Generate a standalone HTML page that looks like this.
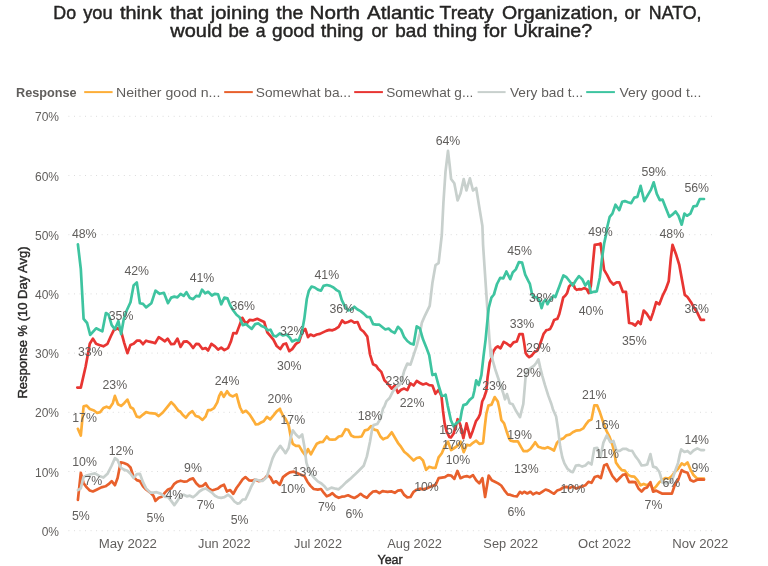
<!DOCTYPE html>
<html><head><meta charset="utf-8"><title>NATO chart</title>
<style>
html,body{margin:0;padding:0;background:#fff;}
body{width:768px;height:566px;overflow:hidden;font-family:"Liberation Sans",sans-serif;}
svg{display:block;will-change:transform;}
text{font-family:"Liberation Sans",sans-serif;}
.ax{font-size:12px;fill:#605E5C;}
.dl{font-size:12.3px;fill:#605E5C;}
.lg{font-size:12.6px;fill:#605E5C;}
.ln{fill:none;stroke-width:2.7;stroke-linejoin:round;stroke-linecap:round;}
</style></head><body>
<svg width="768" height="566" viewBox="0 0 768 566">
<rect width="768" height="566" fill="#fff"/>
<text x="53.33" y="19.3" font-size="19.0" fill="#252423" textLength="22.79" lengthAdjust="spacingAndGlyphs" stroke="#252423" stroke-width="0.45">Do</text><text x="83.14" y="19.3" font-size="19.0" fill="#252423" textLength="29.46" lengthAdjust="spacingAndGlyphs" stroke="#252423" stroke-width="0.45">you</text><text x="119.90" y="19.3" font-size="19.0" fill="#252423" textLength="41.92" lengthAdjust="spacingAndGlyphs" stroke="#252423" stroke-width="0.45">think</text><text x="170.00" y="19.3" font-size="19.0" fill="#252423" textLength="32.65" lengthAdjust="spacingAndGlyphs" stroke="#252423" stroke-width="0.45">that</text><text x="210.80" y="19.3" font-size="19.0" fill="#252423" textLength="58.50" lengthAdjust="spacingAndGlyphs" stroke="#252423" stroke-width="0.45">joining</text><text x="276.30" y="19.3" font-size="19.0" fill="#252423" textLength="26.99" lengthAdjust="spacingAndGlyphs" stroke="#252423" stroke-width="0.45">the</text><text x="309.44" y="19.3" font-size="19.0" fill="#252423" textLength="50.62" lengthAdjust="spacingAndGlyphs" stroke="#252423" stroke-width="0.45">North</text><text x="366.97" y="19.3" font-size="19.0" fill="#252423" textLength="67.37" lengthAdjust="spacingAndGlyphs" stroke="#252423" stroke-width="0.45">Atlantic</text><text x="439.55" y="19.3" font-size="19.0" fill="#252423" textLength="54.09" lengthAdjust="spacingAndGlyphs" stroke="#252423" stroke-width="0.45">Treaty</text><text x="502.13" y="19.3" font-size="19.0" fill="#252423" textLength="116.13" lengthAdjust="spacingAndGlyphs" stroke="#252423" stroke-width="0.45">Organization,</text><text x="624.53" y="19.3" font-size="19.0" fill="#252423" textLength="15.81" lengthAdjust="spacingAndGlyphs" stroke="#252423" stroke-width="0.45">or</text><text x="648.83" y="19.3" font-size="19.0" fill="#252423" textLength="52.63" lengthAdjust="spacingAndGlyphs" stroke="#252423" stroke-width="0.45">NATO,</text>
<text x="170.26" y="36.7" font-size="19.0" fill="#252423" textLength="52.19" lengthAdjust="spacingAndGlyphs" stroke="#252423" stroke-width="0.45">would</text><text x="228.42" y="36.7" font-size="19.0" fill="#252423" textLength="20.71" lengthAdjust="spacingAndGlyphs" stroke="#252423" stroke-width="0.45">be</text><text x="255.84" y="36.7" font-size="19.0" fill="#252423" textLength="9.80" lengthAdjust="spacingAndGlyphs" stroke="#252423" stroke-width="0.45">a</text><text x="272.00" y="36.7" font-size="19.0" fill="#252423" textLength="42.54" lengthAdjust="spacingAndGlyphs" stroke="#252423" stroke-width="0.45">good</text><text x="320.80" y="36.7" font-size="19.0" fill="#252423" textLength="42.69" lengthAdjust="spacingAndGlyphs" stroke="#252423" stroke-width="0.45">thing</text><text x="371.42" y="36.7" font-size="19.0" fill="#252423" textLength="16.23" lengthAdjust="spacingAndGlyphs" stroke="#252423" stroke-width="0.45">or</text><text x="395.30" y="36.7" font-size="19.0" fill="#252423" textLength="31.65" lengthAdjust="spacingAndGlyphs" stroke="#252423" stroke-width="0.45">bad</text><text x="433.50" y="36.7" font-size="19.0" fill="#252423" textLength="43.81" lengthAdjust="spacingAndGlyphs" stroke="#252423" stroke-width="0.45">thing</text><text x="483.50" y="36.7" font-size="19.0" fill="#252423" textLength="23.20" lengthAdjust="spacingAndGlyphs" stroke="#252423" stroke-width="0.45">for</text><text x="513.61" y="36.7" font-size="19.0" fill="#252423" textLength="78.56" lengthAdjust="spacingAndGlyphs" stroke="#252423" stroke-width="0.45">Ukraine?</text>
<text x="16.04" y="96.7" class="lg" font-weight="bold" textLength="60.61" lengthAdjust="spacingAndGlyphs">Response</text>
<line x1="84.2" y1="92.1" x2="112.6" y2="92.1" stroke="#FDAE38" stroke-width="2"/><text x="116.08" y="96.7" class="lg" textLength="104.28" lengthAdjust="spacingAndGlyphs">Neither good n...</text>
<line x1="224.2" y1="92.1" x2="252.8" y2="92.1" stroke="#E8602C" stroke-width="2"/><text x="255.89" y="96.7" class="lg" textLength="95.09" lengthAdjust="spacingAndGlyphs">Somewhat ba...</text>
<line x1="354.2" y1="92.1" x2="382.9" y2="92.1" stroke="#E83532" stroke-width="2"/><text x="386.19" y="96.7" class="lg" textLength="87.08" lengthAdjust="spacingAndGlyphs">Somewhat g...</text>
<line x1="477.6" y1="92.1" x2="505.6" y2="92.1" stroke="#C8D0CD" stroke-width="2"/><text x="510.00" y="96.7" class="lg" textLength="73.02" lengthAdjust="spacingAndGlyphs">Very bad t...</text>
<line x1="586.2" y1="92.1" x2="614.9" y2="92.1" stroke="#3EC4A0" stroke-width="2"/><text x="619.50" y="96.7" class="lg" textLength="81.84" lengthAdjust="spacingAndGlyphs">Very good t...</text>
<line x1="68.85" y1="530.7" x2="712" y2="530.7" stroke="#D8D8D8" stroke-width="1" stroke-dasharray="0.1 5.44" stroke-linecap="round"/><text x="59" y="535.8" text-anchor="end" class="ax">0%</text>
<line x1="68.85" y1="471.5" x2="712" y2="471.5" stroke="#D8D8D8" stroke-width="1" stroke-dasharray="0.1 5.44" stroke-linecap="round"/><text x="59" y="476.6" text-anchor="end" class="ax">10%</text>
<line x1="68.85" y1="412.3" x2="712" y2="412.3" stroke="#D8D8D8" stroke-width="1" stroke-dasharray="0.1 5.44" stroke-linecap="round"/><text x="59" y="417.4" text-anchor="end" class="ax">20%</text>
<line x1="68.85" y1="353.1" x2="712" y2="353.1" stroke="#D8D8D8" stroke-width="1" stroke-dasharray="0.1 5.44" stroke-linecap="round"/><text x="59" y="358.2" text-anchor="end" class="ax">30%</text>
<line x1="68.85" y1="293.9" x2="712" y2="293.9" stroke="#D8D8D8" stroke-width="1" stroke-dasharray="0.1 5.44" stroke-linecap="round"/><text x="59" y="299.0" text-anchor="end" class="ax">40%</text>
<line x1="68.85" y1="234.7" x2="712" y2="234.7" stroke="#D8D8D8" stroke-width="1" stroke-dasharray="0.1 5.44" stroke-linecap="round"/><text x="59" y="239.8" text-anchor="end" class="ax">50%</text>
<line x1="68.85" y1="175.5" x2="712" y2="175.5" stroke="#D8D8D8" stroke-width="1" stroke-dasharray="0.1 5.44" stroke-linecap="round"/><text x="59" y="180.6" text-anchor="end" class="ax">60%</text>
<line x1="68.85" y1="116.3" x2="712" y2="116.3" stroke="#D8D8D8" stroke-width="1" stroke-dasharray="0.1 5.44" stroke-linecap="round"/><text x="59" y="121.4" text-anchor="end" class="ax">70%</text>
<text x="98.70" y="548.2" class="ax" textLength="58.18" lengthAdjust="spacingAndGlyphs">May 2022</text>
<text x="198.03" y="548.2" class="ax" textLength="52.55" lengthAdjust="spacingAndGlyphs">Jun 2022</text>
<text x="294.14" y="548.2" class="ax" textLength="47.82" lengthAdjust="spacingAndGlyphs">Jul 2022</text>
<text x="387.30" y="548.2" class="ax" textLength="54.68" lengthAdjust="spacingAndGlyphs">Aug 2022</text>
<text x="483.37" y="548.2" class="ax" textLength="54.71" lengthAdjust="spacingAndGlyphs">Sep 2022</text>
<text x="578.06" y="548.2" class="ax" textLength="52.91" lengthAdjust="spacingAndGlyphs">Oct 2022</text>
<text x="672.21" y="548.2" class="ax" textLength="56.18" lengthAdjust="spacingAndGlyphs">Nov 2022</text>
<text x="377.50" y="563.6" class="ax" style="fill:#2a2928;stroke:#2a2928;stroke-width:0.4" textLength="25.20" lengthAdjust="spacingAndGlyphs">Year</text>
<text transform="translate(27,397.8) rotate(-90)" x="-0.81" y="0" class="ax" style="fill:#2a2928;stroke:#2a2928;stroke-width:0.4" textLength="152.19" lengthAdjust="spacingAndGlyphs">Response % (10 Day Avg)</text>
<path class="ln" stroke="#FDAE38" d="M77.9,428.8 L80.8,435.5 L83.6,406.3 L86.7,405.7 L89.8,409.0 L94.0,410.5 L97.1,413.0 L100.2,412.1 L103.4,408.0 L106.5,406.7 L109.6,408.0 L112.8,403.2 L114.9,395.9 L118.0,404.2 L121.1,405.9 L124.2,403.2 L127.4,399.6 L130.5,407.3 L133.2,408.8 L136.8,416.7 L139.9,417.3 L143.0,414.6 L146.1,412.1 L150.3,413.2 L155.5,413.6 L158.7,416.1 L162.8,412.5 L167.0,407.3 L171.2,402.1 L174.3,405.2 L178.5,410.9 L180.0,411.4 L182.6,414.7 L185.9,417.7 L189.2,413.4 L192.4,411.2 L195.7,416.0 L199.0,416.9 L202.5,419.9 L205.5,416.7 L208.1,410.1 L210.7,410.1 L214.0,408.2 L217.3,402.3 L219.2,395.8 L221.2,392.1 L223.8,396.8 L227.1,391.2 L229.7,395.1 L232.9,396.4 L236.5,394.4 L238.2,401.0 L240.1,407.5 L242.7,412.5 L246.0,410.8 L249.3,414.1 L251.9,418.0 L253.9,421.2 L255.8,424.5 L258.4,424.2 L261.0,422.5 L263.7,421.2 L266.9,416.9 L270.2,419.3 L273.5,415.4 L276.7,411.4 L280.0,408.8 L280.3,410.0 L283.0,415.7 L285.5,418.8 L288.6,425.1 L290.7,436.5 L292.8,443.8 L295.9,445.9 L299.1,445.9 L302.2,451.1 L305.3,455.3 L308.0,449.1 L310.9,454.3 L313.7,449.1 L316.8,443.8 L319.9,442.2 L323.0,441.8 L326.8,436.5 L329.3,439.3 L332.4,439.7 L335.6,439.3 L338.7,436.5 L341.8,435.9 L345.6,429.2 L348.1,429.7 L351.2,435.5 L354.3,437.0 L358.5,437.0 L361.6,436.5 L364.8,430.3 L367.9,429.7 L371.0,426.1 L374.2,429.7 L377.3,430.3 L380.4,436.5 L383.1,439.3 L384.4,438.6 L387.5,437.5 L391.7,432.3 L394.8,437.5 L397.9,442.8 L401.1,446.9 L404.2,451.7 L407.3,454.2 L410.5,457.4 L413.6,460.5 L416.7,458.0 L419.9,457.4 L423.0,460.5 L426.1,469.9 L429.2,466.8 L432.4,467.8 L435.5,467.8 L438.6,457.4 L441.8,453.2 L444.9,445.9 L448.0,441.7 L451.1,450.1 L454.3,448.0 L457.4,445.9 L460.5,441.7 L463.7,452.2 L466.8,444.9 L469.9,445.5 L473.0,442.8 L476.2,440.7 L479.3,443.8 L482.4,443.4 L483.2,442.2 L484.8,426.5 L486.3,414.0 L488.4,405.6 L491.5,404.6 L494.7,397.1 L497.8,401.5 L499.4,408.8 L501.4,420.2 L504.1,423.4 L506.7,431.7 L509.3,439.0 L510.6,440.7 L513.7,441.3 L517.9,441.3 L521.0,446.9 L523.5,451.1 L527.3,451.1 L530.4,449.0 L533.5,444.9 L535.2,442.2 L538.3,446.8 L541.5,447.8 L544.6,448.4 L547.7,447.2 L550.9,448.8 L554.0,450.5 L557.1,442.6 L560.2,439.5 L563.4,438.4 L566.5,435.3 L569.6,434.7 L572.8,432.2 L575.9,430.7 L580.1,430.1 L583.2,428.4 L586.3,423.8 L588.8,420.7 L591.5,419.6 L594.3,405.4 L597.2,405.4 L599.9,412.3 L603.0,421.7 L606.1,430.1 L609.3,436.3 L612.4,444.7 L614.5,453.0 L615.9,462.4 L618.7,466.6 L621.8,470.1 L624.9,470.7 L628.0,474.9 L631.2,476.4 L634.3,476.6 L637.4,480.1 L640.6,485.3 L643.7,483.9 L646.8,485.3 L649.9,483.3 L653.1,489.5 L656.2,486.4 L659.3,482.2 L662.5,479.7 L665.6,478.0 L668.7,478.5 L671.9,476.0 L675.0,471.8 L678.1,468.7 L681.7,463.4 L684.4,465.1 L687.5,462.4 L690.4,469.3 L693.5,475.1 L697.3,478.7 L700.8,478.7 L704.0,478.7"/>
<path class="ln" stroke="#E8602C" d="M77.9,499.9 L80.8,472.8 L83.6,483.2 L86.7,487.4 L89.8,490.5 L92.9,491.5 L97.1,489.5 L101.3,487.4 L105.5,486.3 L108.6,484.2 L111.7,481.1 L114.9,485.3 L117.6,478.0 L120.7,462.3 L123.8,463.0 L127.4,464.4 L130.5,467.5 L133.6,476.9 L136.8,480.1 L139.9,481.1 L143.0,486.3 L146.1,489.5 L150.3,492.6 L153.4,495.7 L155.5,500.9 L158.7,497.8 L161.8,496.8 L164.9,492.6 L168.0,489.5 L171.2,488.4 L174.3,483.8 L177.4,481.7 L180.6,480.7 L184.3,481.7 L186.8,481.5 L189.9,479.4 L193.1,478.4 L196.2,483.2 L199.3,486.3 L202.5,485.9 L205.6,483.2 L208.7,488.4 L211.9,490.5 L215.0,489.5 L218.1,488.4 L221.2,485.9 L224.0,484.7 L226.9,491.5 L227.5,491.1 L230.2,490.1 L233.3,493.8 L236.5,488.0 L239.6,483.8 L242.7,479.2 L245.4,477.1 L249.0,480.3 L252.1,480.7 L255.2,479.6 L258.4,481.1 L261.5,480.7 L264.6,478.6 L267.8,475.0 L270.5,477.5 L273.4,482.8 L276.1,481.3 L279.7,484.9 L283.0,477.1 L286.5,474.4 L289.7,472.3 L293.8,471.7 L297.0,473.0 L300.1,474.4 L304.3,475.9 L307.4,481.7 L310.5,485.9 L313.7,489.0 L317.8,489.6 L321.0,489.0 L324.1,493.2 L326.8,496.3 L329.3,495.3 L332.4,493.2 L335.6,496.3 L338.7,497.8 L341.8,496.7 L344.9,496.3 L348.1,495.3 L351.2,496.7 L354.3,498.0 L357.5,496.3 L360.6,493.8 L363.7,496.3 L366.9,497.8 L370.0,494.2 L373.1,491.5 L376.2,491.1 L379.4,493.2 L382.5,491.1 L384.4,491.4 L387.5,491.8 L391.7,491.4 L394.8,492.8 L397.9,490.7 L401.1,490.1 L404.2,494.9 L407.3,497.4 L410.5,497.0 L413.6,491.8 L416.7,489.7 L419.9,488.7 L423.0,489.3 L426.1,488.7 L429.2,487.2 L432.4,485.9 L435.5,485.1 L438.6,478.2 L441.8,477.6 L444.9,477.2 L448.0,475.1 L451.1,475.5 L454.3,478.9 L457.4,470.9 L460.5,478.2 L463.7,476.8 L466.8,476.1 L469.9,477.2 L473.0,475.1 L476.2,480.3 L479.3,483.4 L482.4,478.2 L485.1,497.0 L488.7,475.5 L491.8,480.3 L494.9,481.8 L498.1,483.4 L501.2,485.5 L504.3,490.1 L507.5,494.3 L510.6,494.9 L513.7,496.0 L516.9,496.4 L520.0,491.8 L522.1,493.5 L524.2,491.8 L527.3,493.5 L530.4,491.8 L532.5,493.9 L533.1,494.3 L536.3,492.6 L539.4,493.7 L542.5,491.6 L545.6,489.5 L548.8,490.6 L551.9,492.6 L554.0,493.7 L557.1,490.6 L560.2,489.5 L563.4,487.4 L566.5,486.8 L569.6,488.1 L572.8,486.4 L575.9,488.5 L579.0,487.4 L582.2,486.4 L585.3,485.3 L588.4,481.8 L591.5,482.8 L594.7,477.0 L597.8,476.0 L600.9,478.0 L604.1,465.5 L606.8,464.1 L609.3,469.7 L612.4,476.0 L616.6,481.2 L619.7,478.0 L622.8,474.9 L625.5,474.3 L629.1,482.2 L632.2,481.8 L635.3,482.2 L638.5,488.5 L641.6,491.6 L644.3,488.5 L647.2,487.4 L650.4,482.2 L653.1,491.6 L656.2,490.6 L659.3,492.2 L662.5,493.7 L665.6,493.7 L668.7,493.7 L671.9,493.7 L675.0,484.3 L678.1,480.1 L681.7,470.1 L684.4,471.8 L687.5,472.8 L690.4,480.1 L693.5,481.4 L697.3,479.7 L700.8,479.3 L704.0,479.7"/>
<path class="ln" stroke="#E83532" d="M77.3,387.6 L80.8,387.6 L85.6,366.8 L89.8,343.8 L92.9,338.6 L96.1,343.8 L99.2,344.9 L103.4,346.3 L107.5,343.8 L110.7,336.5 L113.8,330.2 L117.6,328.2 L121.1,331.3 L124.2,342.8 L127.4,353.2 L130.5,344.9 L133.6,343.8 L136.8,340.7 L139.9,340.7 L143.0,344.2 L146.1,340.7 L149.3,341.7 L152.4,342.3 L155.1,343.2 L158.7,337.1 L161.8,339.2 L164.9,341.3 L167.6,338.6 L171.2,344.2 L174.3,343.8 L177.4,338.6 L180.6,346.9 L183.7,341.7 L186.8,341.3 L189.9,343.8 L193.1,348.0 L196.2,343.8 L198.9,344.2 L202.5,349.0 L205.6,348.0 L208.1,350.5 L211.4,343.8 L215.0,346.3 L218.1,349.6 L221.2,347.6 L224.4,350.1 L227.5,348.4 L228.1,348.0 L230.8,341.8 L233.3,333.0 L236.5,333.4 L239.6,325.1 L242.3,317.8 L244.8,322.0 L246.9,323.0 L249.6,319.9 L253.2,320.3 L257.3,318.8 L260.9,320.5 L264.2,322.0 L267.3,332.4 L270.5,336.2 L273.4,339.7 L276.7,346.0 L280.3,349.1 L283.4,344.3 L286.1,343.5 L289.3,351.2 L292.2,349.1 L295.9,343.9 L299.1,341.8 L302.2,332.4 L305.3,328.9 L308.0,337.2 L310.5,334.5 L313.7,335.9 L316.8,334.5 L319.9,333.9 L323.0,332.4 L326.2,330.9 L329.3,329.9 L332.4,330.3 L335.6,328.9 L338.7,326.8 L342.2,320.5 L344.9,323.0 L348.1,322.0 L351.2,320.5 L354.3,322.6 L357.5,322.0 L360.6,329.3 L363.7,331.8 L367.3,336.6 L370.0,354.3 L373.1,364.3 L376.2,365.8 L378.1,368.8 L381.3,371.9 L384.4,380.3 L387.5,383.4 L391.7,388.6 L394.8,385.5 L397.9,392.8 L401.1,389.7 L404.2,388.6 L407.3,390.1 L410.5,383.4 L413.6,385.5 L416.7,380.9 L419.9,383.0 L423.0,384.5 L426.1,383.4 L429.2,385.1 L432.4,385.5 L435.5,393.8 L438.6,389.7 L441.5,396.3 L443.0,410.9 L444.6,423.4 L446.7,431.7 L449.3,436.9 L450.9,437.5 L453.5,433.8 L456.1,425.5 L457.6,419.2 L460.2,424.4 L463.4,438.2 L466.5,423.4 L470.2,437.5 L472.8,430.7 L475.9,421.3 L478.5,417.6 L480.1,414.0 L482.2,401.5 L484.2,397.3 L486.3,391.0 L487.6,377.2 L489.7,362.5 L491.3,358.8 L493.3,351.6 L495.9,347.6 L497.8,346.3 L500.5,348.3 L503.7,341.8 L507.0,343.7 L510.3,346.3 L513.5,342.4 L516.8,341.5 L519.4,334.2 L522.7,334.2 L524.2,343.1 L525.6,352.9 L527.3,355.5 L529.2,357.2 L531.8,355.5 L534.4,352.2 L537.1,350.9 L539.0,347.0 L541.6,339.8 L543.6,333.9 L545.6,331.3 L546.2,330.3 L548.2,329.7 L550.1,329.0 L552.1,325.1 L554.1,319.9 L556.0,319.2 L557.3,319.0 L559.3,314.0 L561.2,306.1 L563.2,297.6 L565.2,295.7 L567.1,293.1 L569.1,286.5 L571.0,284.6 L573.0,283.3 L575.0,288.5 L576.9,289.8 L578.9,289.2 L581.5,289.4 L584.1,288.1 L586.7,289.2 L588.7,293.1 L590.9,285.5 L592.6,266.7 L594.7,244.8 L597.8,244.4 L600.5,243.4 L602.0,254.2 L604.1,269.9 L607.2,275.1 L610.3,281.3 L613.4,284.5 L616.6,282.4 L619.3,282.4 L622.8,291.8 L626.0,291.8 L629.1,323.0 L632.2,323.5 L635.3,325.5 L638.1,321.4 L640.6,324.1 L643.7,310.5 L646.8,313.7 L650.6,319.9 L653.1,312.6 L656.2,302.2 L659.3,304.3 L662.5,295.9 L665.6,289.7 L668.7,281.3 L670.8,258.4 L672.5,244.8 L676.0,254.2 L679.2,264.6 L681.9,279.2 L684.8,294.9 L687.5,297.0 L691.0,302.2 L693.9,307.4 L697.3,312.6 L700.8,319.9 L704.0,319.9"/>
<path class="ln" stroke="#C8D0CD" d="M77.9,490.1 L80.8,488.4 L83.6,476.9 L86.7,475.5 L90.9,474.2 L95.0,473.4 L99.2,475.9 L103.4,477.6 L107.5,473.8 L111.7,465.5 L114.9,458.2 L117.6,460.2 L120.7,467.5 L123.8,469.6 L127.4,470.7 L130.5,473.8 L133.6,478.0 L136.8,474.2 L139.9,473.8 L143.0,482.2 L146.1,488.4 L150.3,492.6 L153.4,492.6 L156.6,492.2 L160.7,493.6 L164.9,496.8 L168.0,496.8 L171.2,500.9 L174.3,505.1 L177.4,500.9 L180.6,495.7 L183.7,494.7 L186.8,496.3 L189.9,495.7 L193.1,497.2 L196.2,494.7 L199.3,491.5 L202.5,489.5 L205.6,488.4 L208.7,490.5 L211.9,492.6 L215.0,495.7 L218.1,497.4 L221.2,497.8 L224.4,497.2 L227.5,495.1 L228.1,494.7 L231.3,497.4 L234.4,501.5 L237.5,503.6 L239.6,503.2 L242.7,499.5 L245.4,499.5 L248.4,493.2 L251.1,486.9 L255.2,479.3 L258.4,480.3 L262.5,481.0 L266.7,477.2 L269.9,466.8 L272.6,458.4 L275.1,453.2 L280.3,445.9 L283.4,450.1 L285.5,453.2 L288.6,448.0 L290.7,437.6 L292.8,430.3 L295.9,434.5 L299.1,437.6 L302.2,434.5 L304.3,445.9 L306.4,462.6 L308.4,468.9 L311.6,474.7 L314.7,478.3 L317.8,481.4 L321.4,483.5 L324.7,486.6 L327.2,489.7 L331.4,487.6 L335.6,488.7 L338.7,489.3 L341.8,486.6 L346.0,482.4 L350.2,478.9 L354.3,475.1 L358.5,471.0 L363.7,465.7 L366.9,456.4 L370.0,441.8 L372.1,429.2 L373.5,425.1 L377.3,424.0 L380.4,418.8 L383.1,408.4 L384.4,406.4 L386.5,401.1 L389.6,398.0 L392.7,391.8 L395.9,387.6 L399.0,385.5 L401.1,382.4 L404.2,370.9 L407.3,363.6 L410.5,364.6 L413.6,355.2 L416.7,345.9 L419.9,333.3 L421.9,322.6 L425.1,315.3 L429.7,305.9 L432.4,283.0 L435.5,265.2 L438.6,263.2 L441.8,235.0 L443.4,203.0 L445.5,171.7 L448.0,150.9 L449.7,165.5 L451.1,179.0 L454.3,183.2 L455.9,191.5 L457.6,200.5 L460.5,193.6 L463.7,179.0 L466.4,190.5 L469.9,178.4 L473.0,190.5 L476.2,188.0 L479.3,207.2 L482.4,226.0 L483.1,245.4 L484.5,266.3 L486.6,297.6 L488.7,328.9 L489.3,337.5 L490.8,356.3 L491.3,349.6 L492.6,360.1 L495.2,369.2 L503.1,392.7 L505.0,399.3 L507.0,394.1 L509.0,400.6 L509.6,403.2 L512.7,404.3 L515.8,410.5 L520.0,417.2 L523.3,404.0 L524.6,388.8 L525.9,373.1 L529.2,369.2 L534.4,365.3 L536.4,362.7 L538.4,359.4 L540.3,367.9 L542.3,375.8 L544.9,384.9 L548.2,395.4 L551.4,404.0 L552.9,409.2 L556.1,416.5 L558.2,430.1 L560.2,446.8 L562.3,457.2 L564.4,463.4 L567.5,468.7 L570.7,471.4 L572.8,472.2 L575.9,465.5 L579.0,465.1 L582.2,466.6 L585.3,465.5 L588.4,462.4 L591.5,464.5 L594.3,448.4 L597.2,447.8 L600.5,457.2 L603.4,442.6 L606.8,435.3 L610.3,442.2 L613.4,440.9 L616.6,450.9 L619.7,450.9 L622.8,448.8 L626.0,448.8 L629.1,450.5 L632.2,450.9 L635.3,456.1 L638.5,460.3 L641.6,465.5 L644.7,465.1 L647.2,464.5 L650.4,454.1 L653.1,466.6 L656.2,467.6 L659.3,471.8 L660.3,474.9 L662.3,482.5 L666.2,483.4 L670.1,482.1 L672.7,478.2 L675.4,470.3 L678.0,463.1 L679.9,454.0 L681.2,449.4 L681.7,449.9 L684.4,452.0 L687.5,450.9 L690.4,453.6 L693.5,450.5 L697.3,448.4 L700.8,450.1 L704.0,450.1"/>
<path class="ln" stroke="#3EC4A0" d="M77.9,244.4 L80.8,268.8 L83.6,318.9 L87.1,323.0 L90.2,334.9 L96.1,328.3 L102.3,331.4 L105.9,313.0 L108.6,314.7 L111.7,325.1 L114.9,329.3 L118.4,321.0 L121.1,334.1 L123.8,318.9 L126.7,310.5 L130.5,302.2 L133.6,285.5 L136.8,282.4 L139.9,303.2 L143.0,303.9 L146.1,307.4 L151.4,303.2 L155.5,290.7 L159.7,293.8 L163.9,292.8 L168.0,303.2 L171.2,297.6 L174.3,296.6 L177.4,297.4 L180.6,293.8 L183.7,295.9 L186.4,292.2 L189.9,298.0 L193.1,299.1 L196.2,295.9 L199.3,296.3 L202.0,289.7 L205.2,293.4 L208.1,291.8 L211.9,295.5 L215.0,293.8 L218.1,294.3 L221.2,304.3 L224.4,297.6 L227.5,298.4 L230.2,305.3 L233.3,310.5 L236.5,314.7 L239.6,317.2 L242.7,325.1 L245.9,324.1 L249.0,326.8 L251.7,328.9 L255.2,324.1 L258.4,323.4 L261.5,326.1 L264.6,327.2 L267.8,330.3 L270.5,329.7 L273.4,335.5 L276.1,336.6 L279.7,333.4 L283.0,335.5 L286.5,334.5 L289.7,337.6 L292.2,341.4 L295.9,339.7 L298.4,340.7 L301.8,332.4 L304.3,318.8 L306.8,299.0 L308.9,290.7 L311.6,286.5 L314.7,287.5 L317.8,289.6 L321.0,290.7 L323.5,285.9 L326.8,285.0 L330.3,285.9 L333.5,287.5 L336.6,290.1 L339.3,291.7 L341.8,300.1 L344.9,306.3 L348.1,310.5 L351.2,309.5 L354.3,306.7 L357.5,309.5 L360.6,311.1 L363.7,313.6 L366.9,316.8 L370.0,317.2 L373.1,324.1 L376.2,324.7 L379.4,324.7 L382.5,327.2 L385.4,329.5 L388.6,328.5 L391.7,331.4 L394.8,333.0 L397.9,326.8 L401.1,329.9 L404.2,337.2 L407.3,341.0 L410.5,343.5 L413.6,344.5 L416.7,326.4 L419.9,328.5 L423.0,339.3 L426.1,346.9 L429.2,355.2 L432.4,375.1 L435.5,374.0 L438.6,385.5 L441.8,395.9 L444.9,395.5 L445.6,394.7 L447.7,405.6 L450.9,420.2 L453.5,426.3 L456.1,423.4 L460.2,420.2 L461.8,410.9 L463.4,405.1 L466.5,404.1 L469.6,399.9 L472.8,397.3 L474.3,391.0 L476.2,380.3 L478.7,385.1 L481.4,375.1 L483.5,356.3 L485.6,339.6 L486.6,328.9 L488.7,308.0 L491.4,297.6 L493.9,294.5 L497.0,284.0 L500.2,277.8 L503.3,278.4 L506.4,271.5 L510.2,279.2 L512.7,272.5 L515.8,269.4 L518.9,262.1 L522.1,262.7 L525.2,274.6 L528.3,280.9 L529.9,283.9 L531.8,293.1 L533.8,297.6 L535.8,297.0 L537.7,298.3 L539.7,300.9 L541.6,308.1 L543.6,301.6 L545.6,299.6 L547.5,304.2 L549.5,300.3 L551.4,299.0 L553.4,295.7 L555.4,297.0 L557.3,291.8 L559.3,286.5 L561.2,281.3 L563.4,275.5 L566.5,277.2 L569.6,281.3 L572.8,285.5 L575.9,280.3 L579.0,276.1 L582.2,279.2 L585.3,285.5 L588.4,281.3 L590.9,292.8 L593.6,291.8 L596.8,291.3 L599.9,277.2 L602.0,258.4 L604.1,243.8 L606.1,234.4 L607.2,227.2 L609.7,216.8 L612.4,213.6 L615.5,204.7 L619.3,210.1 L622.2,201.7 L624.9,201.1 L628.0,202.2 L631.2,203.2 L634.3,197.6 L637.4,196.9 L640.6,185.9 L644.3,201.1 L647.9,194.9 L651.0,189.6 L653.7,182.3 L656.8,193.8 L659.8,200.1 L662.5,199.6 L665.6,207.4 L669.3,216.8 L672.3,214.7 L675.6,211.5 L678.5,215.7 L681.7,224.7 L684.4,213.6 L686.9,215.7 L687.3,215.7 L690.4,213.6 L693.5,206.3 L696.7,205.9 L699.8,199.0 L704.0,199.0"/>
<text x="84.2" y="237.7" text-anchor="middle" class="dl">48%</text>
<text x="136.7" y="275.2" text-anchor="middle" class="dl">42%</text>
<text x="202" y="282.3" text-anchor="middle" class="dl">41%</text>
<text x="121.1" y="319.5" text-anchor="middle" class="dl">35%</text>
<text x="90.2" y="356.2" text-anchor="middle" class="dl">33%</text>
<text x="114.8" y="389.4" text-anchor="middle" class="dl">23%</text>
<text x="227.1" y="384.6" text-anchor="middle" class="dl">24%</text>
<text x="84.6" y="421.8" text-anchor="middle" class="dl">17%</text>
<text x="84.6" y="465.8" text-anchor="middle" class="dl">10%</text>
<text x="93.4" y="484.5" text-anchor="middle" class="dl">7%</text>
<text x="121.1" y="455.4" text-anchor="middle" class="dl">12%</text>
<text x="80.8" y="520.0" text-anchor="middle" class="dl">5%</text>
<text x="155.5" y="521.7" text-anchor="middle" class="dl">5%</text>
<text x="174.3" y="498.7" text-anchor="middle" class="dl">4%</text>
<text x="193" y="471.6" text-anchor="middle" class="dl">9%</text>
<text x="205.6" y="508.5" text-anchor="middle" class="dl">7%</text>
<text x="242.7" y="310.4" text-anchor="middle" class="dl">36%</text>
<text x="292.2" y="335.4" text-anchor="middle" class="dl">32%</text>
<text x="326.8" y="278.5" text-anchor="middle" class="dl">41%</text>
<text x="341.8" y="312.9" text-anchor="middle" class="dl">36%</text>
<text x="289.2" y="370.3" text-anchor="middle" class="dl">30%</text>
<text x="279.9" y="403.1" text-anchor="middle" class="dl">20%</text>
<text x="292.8" y="424.3" text-anchor="middle" class="dl">17%</text>
<text x="370" y="419.8" text-anchor="middle" class="dl">18%</text>
<text x="304.9" y="475.9" text-anchor="middle" class="dl">13%</text>
<text x="292.8" y="493.2" text-anchor="middle" class="dl">10%</text>
<text x="239.6" y="524.4" text-anchor="middle" class="dl">5%</text>
<text x="326.8" y="510.8" text-anchor="middle" class="dl">7%</text>
<text x="354.3" y="518.1" text-anchor="middle" class="dl">6%</text>
<text x="448" y="144.5" text-anchor="middle" class="dl">64%</text>
<text x="519.6" y="255.1" text-anchor="middle" class="dl">45%</text>
<text x="522" y="328.2" text-anchor="middle" class="dl">33%</text>
<text x="397.9" y="385.4" text-anchor="middle" class="dl">23%</text>
<text x="412.1" y="407.1" text-anchor="middle" class="dl">22%</text>
<text x="494.5" y="390.0" text-anchor="middle" class="dl">23%</text>
<text x="528.6" y="377.0" text-anchor="middle" class="dl">29%</text>
<text x="538.4" y="352.2" text-anchor="middle" class="dl">29%</text>
<text x="451.6" y="434.1" text-anchor="middle" class="dl">15%</text>
<text x="519.6" y="438.6" text-anchor="middle" class="dl">19%</text>
<text x="458" y="464.4" text-anchor="middle" class="dl">10%</text>
<text x="426.5" y="490.6" text-anchor="middle" class="dl">10%</text>
<text x="526.3" y="472.7" text-anchor="middle" class="dl">13%</text>
<text x="516.4" y="516.1" text-anchor="middle" class="dl">6%</text>
<text x="454.5" y="449.4" text-anchor="middle" class="dl">17%</text>
<text x="653.7" y="176.4" text-anchor="middle" class="dl">59%</text>
<text x="600.5" y="235.6" text-anchor="middle" class="dl">49%</text>
<text x="671.8" y="237.8" text-anchor="middle" class="dl">48%</text>
<text x="541.4" y="301.5" text-anchor="middle" class="dl">38%</text>
<text x="591.1" y="314.6" text-anchor="middle" class="dl">40%</text>
<text x="634.3" y="345.3" text-anchor="middle" class="dl">35%</text>
<text x="594.2" y="398.7" text-anchor="middle" class="dl">21%</text>
<text x="607.2" y="428.7" text-anchor="middle" class="dl">16%</text>
<text x="607.2" y="457.5" text-anchor="middle" class="dl">11%</text>
<text x="572.8" y="493.0" text-anchor="middle" class="dl">10%</text>
<text x="671.4" y="486.7" text-anchor="middle" class="dl">6%</text>
<text x="696.7" y="191.5" text-anchor="middle" class="dl">56%</text>
<text x="696.7" y="312.9" text-anchor="middle" class="dl">36%</text>
<text x="696.7" y="443.5" text-anchor="middle" class="dl">14%</text>
<text x="700.4" y="471.7" text-anchor="middle" class="dl">9%</text>
<text x="653.5" y="509.2" text-anchor="middle" class="dl">7%</text>
</svg></body></html>
